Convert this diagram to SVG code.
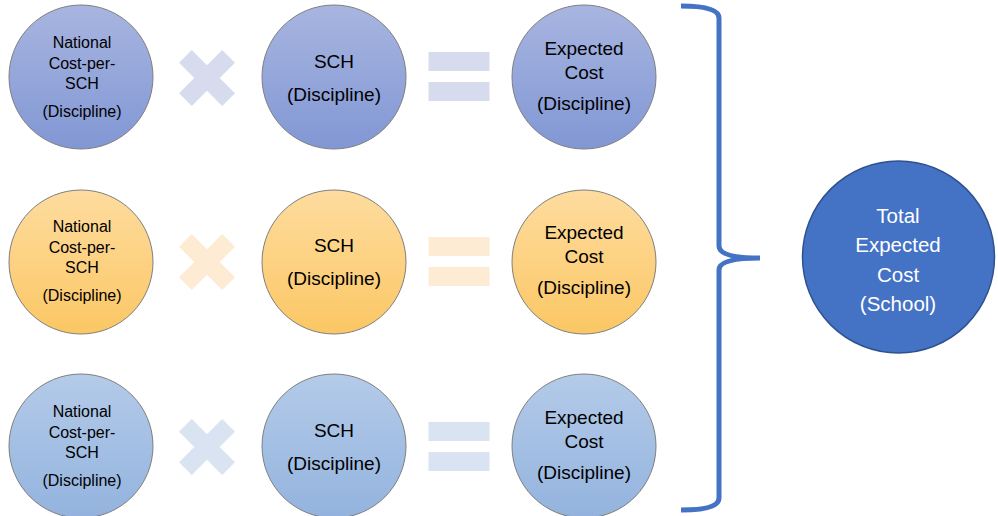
<svg xmlns="http://www.w3.org/2000/svg" width="998" height="516" viewBox="0 0 998 516">
<defs>
<linearGradient id="gB" x1="0" y1="0" x2="0" y2="1"><stop offset="0" stop-color="#a8b5e0"/><stop offset="1" stop-color="#8197d4"/></linearGradient>
<linearGradient id="gO" x1="0" y1="0" x2="0" y2="1"><stop offset="0" stop-color="#fedc9f"/><stop offset="1" stop-color="#fbc764"/></linearGradient>
<linearGradient id="gL" x1="0" y1="0" x2="0" y2="1"><stop offset="0" stop-color="#b4cbe9"/><stop offset="1" stop-color="#93b3de"/></linearGradient>
<g id="cross"><rect x="-30.5" y="-9" width="61" height="18" transform="rotate(45)"/><rect x="-30.5" y="-9" width="61" height="18" transform="rotate(-45)"/></g>
<g id="eq"><rect x="-30.5" y="-25" width="61" height="19"/><rect x="-30.5" y="5" width="61" height="19"/></g>
</defs>
<style>
.c{stroke:#7f7f7f;stroke-width:1}
.t{font-family:"Liberation Sans",Arial,sans-serif;fill:#000;text-anchor:middle}
.s{font-size:16px}
.m{font-size:19px}
.w{font-family:"Liberation Sans",Arial,sans-serif;fill:#fff;text-anchor:middle;font-size:20.5px}
</style>
<g id="connectors">
<path d="M681,6 Q719,6 719,18 L719,246 Q719,258 760,258 Q719,258 719,270 L719,498 Q719,510 681,510" fill="none" stroke="#4472c4" stroke-width="5"/>
</g>
<g id="ops">
<use href="#cross" x="207" y="78" fill="#d6dcee"/>
<use href="#eq" x="459" y="77" fill="#d6dcee"/>
<use href="#cross" x="207" y="262" fill="#fdebd3"/>
<use href="#eq" x="459" y="262" fill="#fdebd3"/>
<use href="#cross" x="207" y="447" fill="#d9e3f2"/>
<use href="#eq" x="459" y="447" fill="#d9e3f2"/>
</g>
<g id="n1a"><circle class="c" cx="81" cy="77" r="72" fill="url(#gB)"/>
<text class="t s" x="82" y="48">National</text><text class="t s" x="82" y="69">Cost-per-</text><text class="t s" x="82" y="89">SCH</text><text class="t s" x="82" y="117">(Discipline)</text></g>
<g id="n1b"><circle class="c" cx="334" cy="77" r="72" fill="url(#gB)"/>
<text class="t m" x="334" y="68">SCH</text><text class="t m" x="334" y="101">(Discipline)</text></g>
<g id="n1c"><circle class="c" cx="584" cy="77" r="72" fill="url(#gB)"/>
<text class="t m" x="584" y="55">Expected</text><text class="t m" x="584" y="79">Cost</text><text class="t m" x="584" y="110">(Discipline)</text></g>
<g id="n2a"><circle class="c" cx="81" cy="262" r="72" fill="url(#gO)"/>
<text class="t s" x="82" y="232">National</text><text class="t s" x="82" y="253">Cost-per-</text><text class="t s" x="82" y="273">SCH</text><text class="t s" x="82" y="301">(Discipline)</text></g>
<g id="n2b"><circle class="c" cx="334" cy="262" r="72" fill="url(#gO)"/>
<text class="t m" x="334" y="252">SCH</text><text class="t m" x="334" y="285">(Discipline)</text></g>
<g id="n2c"><circle class="c" cx="584" cy="262" r="72" fill="url(#gO)"/>
<text class="t m" x="584" y="239">Expected</text><text class="t m" x="584" y="263">Cost</text><text class="t m" x="584" y="294">(Discipline)</text></g>
<g id="n3a"><circle class="c" cx="81" cy="446" r="72" fill="url(#gL)"/>
<text class="t s" x="82" y="417">National</text><text class="t s" x="82" y="438">Cost-per-</text><text class="t s" x="82" y="458">SCH</text><text class="t s" x="82" y="486">(Discipline)</text></g>
<g id="n3b"><circle class="c" cx="334" cy="446" r="72" fill="url(#gL)"/>
<text class="t m" x="334" y="437">SCH</text><text class="t m" x="334" y="470">(Discipline)</text></g>
<g id="n3c"><circle class="c" cx="584" cy="446" r="72" fill="url(#gL)"/>
<text class="t m" x="584" y="424">Expected</text><text class="t m" x="584" y="448">Cost</text><text class="t m" x="584" y="479">(Discipline)</text></g>
<g id="total"><circle cx="898.5" cy="257" r="96" fill="#4472c4" stroke="#2f528f" stroke-width="1.5"/>
<text class="w" x="898" y="223">Total</text><text class="w" x="898" y="252">Expected</text><text class="w" x="898" y="282">Cost</text><text class="w" x="898" y="311">(School)</text></g>
</svg>
